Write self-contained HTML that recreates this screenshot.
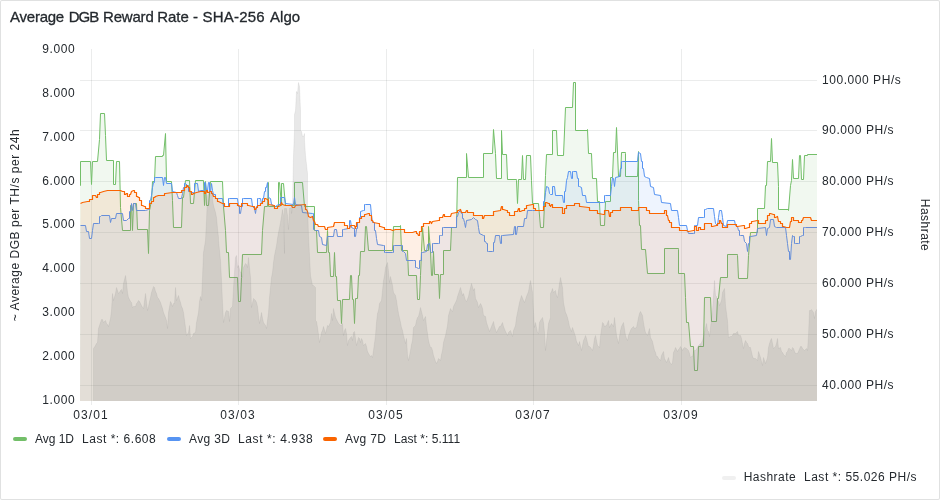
<!DOCTYPE html>
<html><head><meta charset="utf-8"><title>Average DGB Reward Rate - SHA-256 Algo</title>
<style>
html,body{margin:0;padding:0;background:#fff;}
body{width:940px;height:500px;position:relative;overflow:hidden;font-family:"Liberation Sans",sans-serif;color:#24292e;}
.panel{position:absolute;left:0;top:0;width:938px;height:498px;border:1px solid rgba(36,41,46,0.14);border-radius:2px;background:#fff;}
.title{position:absolute;left:9.2px;top:8px;font-size:15px;line-height:18px;font-weight:400;letter-spacing:0.01px;white-space:nowrap;-webkit-text-stroke:0.3px #24292e;}
.plot{position:absolute;left:0;top:0;}
.yl{position:absolute;left:20.3px;width:55px;text-align:right;font-size:12px;line-height:16px;letter-spacing:0.6px;white-space:nowrap;}
.yr{position:absolute;left:822px;font-size:12px;line-height:16px;letter-spacing:0.55px;white-space:nowrap;}
.xl{position:absolute;top:407px;width:60px;text-align:center;font-size:12px;line-height:16px;letter-spacing:1.1px;white-space:nowrap;}
.ytitle{position:absolute;left:15px;top:225px;font-size:12px;line-height:16px;white-space:nowrap;letter-spacing:0.52px;transform:translate(-50%,-50%) rotate(-90deg);}
.rtitle{position:absolute;left:925px;top:225.3px;font-size:12px;line-height:16px;white-space:nowrap;letter-spacing:0.47px;transform:translate(-50%,-50%) rotate(90deg);}
.lg{position:absolute;font-size:12px;line-height:16px;white-space:nowrap;letter-spacing:0.3px;}
.sw{position:absolute;width:14px;height:4px;border-radius:2px;}
#wrap{position:absolute;left:0;top:0;width:940px;height:500px;will-change:transform;}
</style></head><body><div id="wrap">
<div class="panel"></div>
<div class="title" style="left:10.0px;letter-spacing:-0.233px">Average</div><div class="title" style="left:68.75px;letter-spacing:-1.05px">DGB</div><div class="title" style="left:103.0px;letter-spacing:-0.19px">Reward</div><div class="title" style="left:157.25px;letter-spacing:-0.033px">Rate</div><div class="title" style="left:193.0px;letter-spacing:0.0px">-</div><div class="title" style="left:202.5px;letter-spacing:0.208px">SHA-256</div><div class="title" style="left:270.0px;letter-spacing:0.05px">Algo</div>
<svg class="plot" width="940" height="500" viewBox="0 0 940 500"><defs><clipPath id="c"><rect x="80" y="49" width="737" height="352"/></clipPath></defs><line x1="91.5" y1="49" x2="91.5" y2="405" stroke="rgba(36,41,46,0.09)" stroke-width="1"/><line x1="238.5" y1="49" x2="238.5" y2="405" stroke="rgba(36,41,46,0.09)" stroke-width="1"/><line x1="386.5" y1="49" x2="386.5" y2="405" stroke="rgba(36,41,46,0.09)" stroke-width="1"/><line x1="533.5" y1="49" x2="533.5" y2="405" stroke="rgba(36,41,46,0.09)" stroke-width="1"/><line x1="681.5" y1="49" x2="681.5" y2="405" stroke="rgba(36,41,46,0.09)" stroke-width="1"/><line x1="80" y1="385.5" x2="817" y2="385.5" stroke="rgba(36,41,46,0.09)" stroke-width="1"/><line x1="80" y1="334.5" x2="817" y2="334.5" stroke="rgba(36,41,46,0.09)" stroke-width="1"/><line x1="80" y1="283.5" x2="817" y2="283.5" stroke="rgba(36,41,46,0.09)" stroke-width="1"/><line x1="80" y1="232.5" x2="817" y2="232.5" stroke="rgba(36,41,46,0.09)" stroke-width="1"/><line x1="80" y1="181.5" x2="817" y2="181.5" stroke="rgba(36,41,46,0.09)" stroke-width="1"/><line x1="80" y1="130.5" x2="817" y2="130.5" stroke="rgba(36,41,46,0.09)" stroke-width="1"/><line x1="80" y1="80.5" x2="817" y2="80.5" stroke="rgba(36,41,46,0.09)" stroke-width="1"/><g clip-path="url(#c)"><path d="M79.50,185.50 L80.50,185.50 L80.50,161.50 L90.50,161.50 L91.50,184.50 L92.50,161.50 L97.50,161.50 L99.50,139.50 L100.50,113.50 L104.50,113.50 L105.50,135.50 L106.50,160.50 L113.50,160.50 L113.50,184.50 L115.50,184.50 L116.50,161.50 L119.50,161.50 L120.50,207.50 L122.50,230.50 L130.50,230.50 L130.50,205.50 L131.50,205.50 L132.50,230.50 L133.50,203.50 L136.50,203.50 L137.50,229.50 L147.50,229.50 L148.50,253.50 L149.50,210.50 L151.50,200.50 L152.50,181.50 L154.50,181.50 L155.50,156.50 L162.50,156.50 L162.50,155.50 L163.50,155.50 L165.50,133.50 L166.50,181.50 L171.50,181.50 L172.50,200.50 L173.50,227.50 L181.50,227.50 L182.50,197.50 L183.50,197.50 L185.50,180.50 L189.50,180.50 L190.50,203.50 L193.50,203.50 L195.50,180.50 L203.50,180.50 L204.50,205.50 L205.50,181.50 L206.50,205.50 L208.50,205.50 L210.50,181.50 L222.50,181.50 L223.50,206.50 L225.50,230.50 L226.50,252.50 L228.50,252.50 L229.50,277.50 L237.50,277.50 L238.50,301.50 L240.50,301.50 L241.50,277.50 L242.50,254.50 L261.50,254.50 L262.50,230.50 L264.50,206.50 L267.50,206.50 L268.50,182.50 L268.50,206.50 L278.50,206.50 L278.50,182.50 L279.50,182.50 L281.50,205.50 L281.50,183.50 L283.50,183.50 L285.50,205.50 L294.50,205.50 L294.50,182.50 L302.50,182.50 L304.50,206.50 L314.50,206.50 L314.50,230.50 L316.50,230.50 L317.50,252.50 L326.50,252.50 L327.50,230.50 L328.50,252.50 L329.50,252.50 L330.50,276.50 L333.50,276.50 L334.50,252.50 L335.50,276.50 L336.50,276.50 L337.50,300.50 L340.50,300.50 L341.50,323.50 L342.50,299.50 L349.50,299.50 L350.50,275.50 L351.50,275.50 L352.50,299.50 L353.50,299.50 L354.50,323.50 L355.50,298.50 L357.50,298.50 L358.50,275.50 L359.50,275.50 L360.50,251.50 L364.50,251.50 L365.50,226.50 L366.50,226.50 L368.50,250.50 L392.50,250.50 L393.50,226.50 L400.50,226.50 L400.50,225.50 L401.50,250.50 L407.50,250.50 L408.50,275.50 L416.50,275.50 L417.50,299.50 L419.50,299.50 L420.50,275.50 L421.50,251.50 L422.50,227.50 L424.50,250.50 L428.50,250.50 L428.50,226.50 L430.50,250.50 L431.50,275.50 L432.50,275.50 L433.50,251.50 L434.50,274.50 L438.50,274.50 L439.50,298.50 L440.50,274.50 L443.50,274.50 L443.50,250.50 L450.50,250.50 L451.50,227.50 L456.50,227.50 L457.50,177.50 L466.50,177.50 L466.50,153.50 L468.50,177.50 L483.50,177.50 L483.50,153.50 L492.50,153.50 L493.50,129.50 L495.50,153.50 L496.50,178.50 L501.50,178.50 L501.50,130.50 L502.50,154.50 L506.50,154.50 L507.50,179.50 L516.50,179.50 L516.50,180.50 L517.50,203.50 L518.50,179.50 L521.50,179.50 L522.50,155.50 L523.50,179.50 L525.50,179.50 L526.50,155.50 L530.50,155.50 L531.50,180.50 L532.50,203.50 L538.50,203.50 L540.50,227.50 L543.50,227.50 L544.50,202.50 L545.50,175.50 L546.50,154.50 L552.50,154.50 L552.50,130.50 L556.50,130.50 L557.50,155.50 L563.50,155.50 L565.50,107.50 L572.50,107.50 L573.50,82.50 L575.50,82.50 L575.50,130.50 L587.50,130.50 L587.50,129.50 L588.50,153.50 L591.50,153.50 L592.50,178.50 L596.50,178.50 L597.50,201.50 L599.50,201.50 L599.50,202.50 L600.50,225.50 L604.50,225.50 L605.50,201.50 L610.50,201.50 L610.50,177.50 L612.50,177.50 L613.50,152.50 L615.50,152.50 L616.50,127.50 L618.50,176.50 L620.50,176.50 L621.50,152.50 L625.50,152.50 L625.50,153.50 L625.50,176.50 L637.50,176.50 L638.50,151.50 L638.50,200.50 L639.50,225.50 L640.50,225.50 L641.50,249.50 L645.50,249.50 L647.50,273.50 L664.50,273.50 L664.50,248.50 L678.50,248.50 L678.50,249.50 L678.50,273.50 L684.50,273.50 L685.50,297.50 L686.50,322.50 L688.50,322.50 L690.50,346.50 L693.50,346.50 L694.50,370.50 L697.50,370.50 L698.50,346.50 L703.50,346.50 L704.50,297.50 L710.50,297.50 L711.50,321.50 L716.50,321.50 L717.50,298.50 L718.50,298.50 L720.50,277.50 L727.50,277.50 L727.50,254.50 L737.50,254.50 L737.50,255.50 L738.50,278.50 L747.50,278.50 L748.50,255.50 L750.50,232.50 L757.50,232.50 L757.50,208.50 L764.50,208.50 L765.50,185.50 L766.50,185.50 L767.50,161.50 L770.50,161.50 L771.50,138.50 L772.50,162.50 L777.50,162.50 L778.50,186.50 L778.50,209.50 L788.50,209.50 L788.50,210.50 L790.50,185.50 L791.50,180.50 L792.50,159.50 L793.50,178.50 L798.50,178.50 L799.50,155.50 L800.50,155.50 L801.50,179.50 L803.50,179.50 L804.50,155.50 L807.50,155.50 L807.50,154.50 L817.50,154.50 L817.00,402 L80.00,402 Z" fill="#73BF69" fill-opacity="0.1"/><path d="M79.50,185.50 L80.50,185.50 L80.50,161.50 L90.50,161.50 L91.50,184.50 L92.50,161.50 L97.50,161.50 L99.50,139.50 L100.50,113.50 L104.50,113.50 L105.50,135.50 L106.50,160.50 L113.50,160.50 L113.50,184.50 L115.50,184.50 L116.50,161.50 L119.50,161.50 L120.50,207.50 L122.50,230.50 L130.50,230.50 L130.50,205.50 L131.50,205.50 L132.50,230.50 L133.50,203.50 L136.50,203.50 L137.50,229.50 L147.50,229.50 L148.50,253.50 L149.50,210.50 L151.50,200.50 L152.50,181.50 L154.50,181.50 L155.50,156.50 L162.50,156.50 L162.50,155.50 L163.50,155.50 L165.50,133.50 L166.50,181.50 L171.50,181.50 L172.50,200.50 L173.50,227.50 L181.50,227.50 L182.50,197.50 L183.50,197.50 L185.50,180.50 L189.50,180.50 L190.50,203.50 L193.50,203.50 L195.50,180.50 L203.50,180.50 L204.50,205.50 L205.50,181.50 L206.50,205.50 L208.50,205.50 L210.50,181.50 L222.50,181.50 L223.50,206.50 L225.50,230.50 L226.50,252.50 L228.50,252.50 L229.50,277.50 L237.50,277.50 L238.50,301.50 L240.50,301.50 L241.50,277.50 L242.50,254.50 L261.50,254.50 L262.50,230.50 L264.50,206.50 L267.50,206.50 L268.50,182.50 L268.50,206.50 L278.50,206.50 L278.50,182.50 L279.50,182.50 L281.50,205.50 L281.50,183.50 L283.50,183.50 L285.50,205.50 L294.50,205.50 L294.50,182.50 L302.50,182.50 L304.50,206.50 L314.50,206.50 L314.50,230.50 L316.50,230.50 L317.50,252.50 L326.50,252.50 L327.50,230.50 L328.50,252.50 L329.50,252.50 L330.50,276.50 L333.50,276.50 L334.50,252.50 L335.50,276.50 L336.50,276.50 L337.50,300.50 L340.50,300.50 L341.50,323.50 L342.50,299.50 L349.50,299.50 L350.50,275.50 L351.50,275.50 L352.50,299.50 L353.50,299.50 L354.50,323.50 L355.50,298.50 L357.50,298.50 L358.50,275.50 L359.50,275.50 L360.50,251.50 L364.50,251.50 L365.50,226.50 L366.50,226.50 L368.50,250.50 L392.50,250.50 L393.50,226.50 L400.50,226.50 L400.50,225.50 L401.50,250.50 L407.50,250.50 L408.50,275.50 L416.50,275.50 L417.50,299.50 L419.50,299.50 L420.50,275.50 L421.50,251.50 L422.50,227.50 L424.50,250.50 L428.50,250.50 L428.50,226.50 L430.50,250.50 L431.50,275.50 L432.50,275.50 L433.50,251.50 L434.50,274.50 L438.50,274.50 L439.50,298.50 L440.50,274.50 L443.50,274.50 L443.50,250.50 L450.50,250.50 L451.50,227.50 L456.50,227.50 L457.50,177.50 L466.50,177.50 L466.50,153.50 L468.50,177.50 L483.50,177.50 L483.50,153.50 L492.50,153.50 L493.50,129.50 L495.50,153.50 L496.50,178.50 L501.50,178.50 L501.50,130.50 L502.50,154.50 L506.50,154.50 L507.50,179.50 L516.50,179.50 L516.50,180.50 L517.50,203.50 L518.50,179.50 L521.50,179.50 L522.50,155.50 L523.50,179.50 L525.50,179.50 L526.50,155.50 L530.50,155.50 L531.50,180.50 L532.50,203.50 L538.50,203.50 L540.50,227.50 L543.50,227.50 L544.50,202.50 L545.50,175.50 L546.50,154.50 L552.50,154.50 L552.50,130.50 L556.50,130.50 L557.50,155.50 L563.50,155.50 L565.50,107.50 L572.50,107.50 L573.50,82.50 L575.50,82.50 L575.50,130.50 L587.50,130.50 L587.50,129.50 L588.50,153.50 L591.50,153.50 L592.50,178.50 L596.50,178.50 L597.50,201.50 L599.50,201.50 L599.50,202.50 L600.50,225.50 L604.50,225.50 L605.50,201.50 L610.50,201.50 L610.50,177.50 L612.50,177.50 L613.50,152.50 L615.50,152.50 L616.50,127.50 L618.50,176.50 L620.50,176.50 L621.50,152.50 L625.50,152.50 L625.50,153.50 L625.50,176.50 L637.50,176.50 L638.50,151.50 L638.50,200.50 L639.50,225.50 L640.50,225.50 L641.50,249.50 L645.50,249.50 L647.50,273.50 L664.50,273.50 L664.50,248.50 L678.50,248.50 L678.50,249.50 L678.50,273.50 L684.50,273.50 L685.50,297.50 L686.50,322.50 L688.50,322.50 L690.50,346.50 L693.50,346.50 L694.50,370.50 L697.50,370.50 L698.50,346.50 L703.50,346.50 L704.50,297.50 L710.50,297.50 L711.50,321.50 L716.50,321.50 L717.50,298.50 L718.50,298.50 L720.50,277.50 L727.50,277.50 L727.50,254.50 L737.50,254.50 L737.50,255.50 L738.50,278.50 L747.50,278.50 L748.50,255.50 L750.50,232.50 L757.50,232.50 L757.50,208.50 L764.50,208.50 L765.50,185.50 L766.50,185.50 L767.50,161.50 L770.50,161.50 L771.50,138.50 L772.50,162.50 L777.50,162.50 L778.50,186.50 L778.50,209.50 L788.50,209.50 L788.50,210.50 L790.50,185.50 L791.50,180.50 L792.50,159.50 L793.50,178.50 L798.50,178.50 L799.50,155.50 L800.50,155.50 L801.50,179.50 L803.50,179.50 L804.50,155.50 L807.50,155.50 L807.50,154.50 L817.50,154.50" fill="none" stroke="#73BF69" stroke-width="1" stroke-linejoin="round"/><path d="M80.50,225.50 L85.50,225.50 L86.50,231.50 L88.50,231.50 L89.50,238.50 L91.50,238.50 L92.50,230.50 L93.50,223.50 L98.50,223.50 L99.50,223.50 L99.50,216.50 L100.50,216.50 L101.50,215.50 L109.50,215.50 L110.50,222.50 L111.50,218.50 L115.50,218.50 L116.50,213.50 L122.50,213.50 L123.50,220.50 L126.50,220.50 L128.50,218.50 L129.50,218.50 L129.50,211.50 L130.50,211.50 L131.50,203.50 L132.50,210.50 L133.50,203.50 L135.50,203.50 L136.50,210.50 L145.50,210.50 L148.50,209.50 L149.50,209.50 L149.50,200.50 L150.50,200.50 L151.50,195.50 L152.50,187.50 L153.50,182.50 L154.50,182.50 L154.50,177.50 L155.50,177.50 L162.50,177.50 L163.50,185.50 L164.50,177.50 L165.50,177.50 L166.50,183.50 L171.50,183.50 L172.50,191.50 L176.50,192.50 L177.50,195.50 L178.50,198.50 L181.50,198.50 L182.50,193.50 L183.50,187.50 L184.50,187.50 L184.50,183.50 L185.50,183.50 L187.50,185.50 L188.50,185.50 L188.50,191.50 L189.50,191.50 L191.50,192.50 L193.50,192.50 L194.50,192.50 L194.50,183.50 L195.50,183.50 L197.50,183.50 L198.50,191.50 L200.50,190.50 L203.50,190.50 L204.50,190.50 L204.50,182.50 L205.50,182.50 L206.50,190.50 L207.50,190.50 L208.50,182.50 L209.50,182.50 L209.50,191.50 L210.50,191.50 L211.50,183.50 L212.50,190.50 L213.50,194.50 L215.50,194.50 L215.50,198.50 L216.50,198.50 L222.50,198.50 L223.50,206.50 L227.50,206.50 L228.50,206.50 L228.50,198.50 L229.50,198.50 L237.50,198.50 L238.50,206.50 L239.50,206.50 L239.50,213.50 L240.50,213.50 L241.50,206.50 L242.50,206.50 L242.50,198.50 L243.50,198.50 L251.50,198.50 L252.50,206.50 L254.50,208.50 L255.50,213.50 L256.50,206.50 L257.50,206.50 L257.50,198.50 L258.50,198.50 L260.50,198.50 L261.50,203.50 L262.50,203.50 L262.50,198.50 L263.50,198.50 L264.50,191.50 L265.50,191.50 L265.50,187.50 L266.50,187.50 L267.50,182.50 L268.50,197.50 L270.50,198.50 L271.50,204.50 L273.50,205.50 L275.50,206.50 L278.50,204.50 L280.50,204.50 L280.50,197.50 L281.50,197.50 L284.50,197.50 L285.50,203.50 L293.50,204.50 L294.50,197.50 L295.50,204.50 L301.50,205.50 L302.50,212.50 L312.50,213.50 L313.50,213.50 L313.50,229.50 L314.50,229.50 L315.50,230.50 L318.50,230.50 L319.50,236.50 L321.50,237.50 L322.50,244.50 L326.50,245.50 L327.50,236.50 L333.50,236.50 L334.50,229.50 L336.50,229.50 L337.50,236.50 L341.50,236.50 L342.50,236.50 L342.50,229.50 L343.50,229.50 L348.50,228.50 L349.50,228.50 L349.50,220.50 L350.50,220.50 L351.50,227.50 L353.50,228.50 L354.50,228.50 L354.50,236.50 L355.50,236.50 L356.50,228.50 L357.50,228.50 L357.50,222.50 L358.50,222.50 L359.50,222.50 L359.50,217.50 L360.50,217.50 L360.50,211.50 L363.50,210.50 L364.50,210.50 L364.50,204.50 L365.50,204.50 L370.50,204.50 L371.50,215.50 L372.50,222.50 L374.50,222.50 L374.50,230.50 L375.50,230.50 L376.50,238.50 L377.50,244.50 L383.50,245.50 L384.50,245.50 L384.50,252.50 L385.50,252.50 L392.50,252.50 L393.50,252.50 L393.50,245.50 L394.50,245.50 L401.50,245.50 L402.50,245.50 L402.50,251.50 L403.50,251.50 L405.50,253.50 L406.50,260.50 L413.50,260.50 L415.50,260.50 L415.50,267.50 L416.50,267.50 L418.50,268.50 L419.50,268.50 L419.50,260.50 L420.50,260.50 L421.50,260.50 L421.50,252.50 L422.50,252.50 L426.50,251.50 L427.50,244.50 L429.50,243.50 L430.50,251.50 L431.50,252.50 L432.50,252.50 L432.50,243.50 L433.50,243.50 L438.50,243.50 L439.50,243.50 L439.50,235.50 L440.50,235.50 L441.50,235.50 L442.50,235.50 L442.50,227.50 L443.50,227.50 L455.50,227.50 L456.50,227.50 L456.50,216.50 L457.50,216.50 L458.50,212.50 L460.50,210.50 L461.50,213.50 L462.50,213.50 L462.50,218.50 L463.50,218.50 L464.50,222.50 L465.50,227.50 L466.50,220.50 L471.50,219.50 L473.50,217.50 L475.50,219.50 L477.50,220.50 L478.50,227.50 L479.50,233.50 L483.50,235.50 L484.50,235.50 L484.50,241.50 L485.50,241.50 L486.50,243.50 L487.50,243.50 L487.50,251.50 L488.50,251.50 L492.50,251.50 L493.50,251.50 L493.50,242.50 L494.50,242.50 L495.50,235.50 L499.50,235.50 L500.50,243.50 L501.50,243.50 L501.50,235.50 L502.50,235.50 L513.50,234.50 L514.50,226.50 L515.50,226.50 L515.50,234.50 L516.50,234.50 L517.50,226.50 L523.50,226.50 L524.50,218.50 L526.50,218.50 L527.50,210.50 L532.50,210.50 L535.50,210.50 L542.50,210.50 L543.50,210.50 L543.50,201.50 L544.50,201.50 L545.50,192.50 L546.50,186.50 L548.50,187.50 L549.50,193.50 L550.50,194.50 L552.50,194.50 L552.50,186.50 L554.50,186.50 L555.50,195.50 L562.50,195.50 L563.50,202.50 L564.50,202.50 L564.50,191.50 L565.50,191.50 L566.50,180.50 L567.50,177.50 L568.50,171.50 L570.50,171.50 L571.50,178.50 L572.50,178.50 L572.50,171.50 L573.50,171.50 L576.50,171.50 L577.50,178.50 L578.50,178.50 L578.50,186.50 L579.50,186.50 L581.50,187.50 L582.50,195.50 L585.50,195.50 L586.50,202.50 L603.50,202.50 L604.50,202.50 L604.50,195.50 L605.50,195.50 L610.50,195.50 L611.50,186.50 L612.50,177.50 L613.50,178.50 L614.50,186.50 L615.50,177.50 L619.50,176.50 L620.50,168.50 L621.50,168.50 L621.50,161.50 L622.50,161.50 L637.50,161.50 L638.50,152.50 L640.50,153.50 L641.50,161.50 L642.50,161.50 L642.50,168.50 L643.50,168.50 L644.50,176.50 L646.50,177.50 L649.50,178.50 L650.50,186.50 L653.50,187.50 L654.50,194.50 L660.50,195.50 L661.50,202.50 L670.50,203.50 L671.50,210.50 L677.50,210.50 L678.50,217.50 L679.50,225.50 L686.50,225.50 L687.50,230.50 L688.50,233.50 L693.50,233.50 L694.50,233.50 L694.50,225.50 L695.50,225.50 L697.50,225.50 L698.50,217.50 L703.50,217.50 L704.50,217.50 L704.50,209.50 L705.50,209.50 L707.50,208.50 L713.50,208.50 L714.50,216.50 L715.50,223.50 L717.50,225.50 L718.50,217.50 L719.50,210.50 L721.50,210.50 L722.50,217.50 L723.50,225.50 L726.50,226.50 L727.50,220.50 L734.50,220.50 L735.50,225.50 L737.50,226.50 L738.50,230.50 L739.50,230.50 L739.50,235.50 L740.50,235.50 L743.50,235.50 L744.50,241.50 L746.50,243.50 L747.50,251.50 L748.50,243.50 L749.50,243.50 L749.50,236.50 L750.50,236.50 L756.50,235.50 L757.50,228.50 L765.50,227.50 L766.50,235.50 L767.50,228.50 L769.50,227.50 L770.50,219.50 L773.50,219.50 L774.50,226.50 L776.50,227.50 L785.50,227.50 L786.50,235.50 L787.50,243.50 L788.50,251.50 L789.50,251.50 L789.50,259.50 L790.50,259.50 L791.50,243.50 L792.50,235.50 L793.50,236.50 L794.50,236.50 L794.50,243.50 L795.50,243.50 L798.50,243.50 L799.50,243.50 L799.50,236.50 L800.50,236.50 L802.50,235.50 L803.50,235.50 L803.50,227.50 L804.50,227.50 L805.50,227.50 L817.50,227.50 L817.00,402 L80.00,402 Z" fill="#5794F2" fill-opacity="0.1"/><path d="M80.50,225.50 L85.50,225.50 L86.50,231.50 L88.50,231.50 L89.50,238.50 L91.50,238.50 L92.50,230.50 L93.50,223.50 L98.50,223.50 L99.50,223.50 L99.50,216.50 L100.50,216.50 L101.50,215.50 L109.50,215.50 L110.50,222.50 L111.50,218.50 L115.50,218.50 L116.50,213.50 L122.50,213.50 L123.50,220.50 L126.50,220.50 L128.50,218.50 L129.50,218.50 L129.50,211.50 L130.50,211.50 L131.50,203.50 L132.50,210.50 L133.50,203.50 L135.50,203.50 L136.50,210.50 L145.50,210.50 L148.50,209.50 L149.50,209.50 L149.50,200.50 L150.50,200.50 L151.50,195.50 L152.50,187.50 L153.50,182.50 L154.50,182.50 L154.50,177.50 L155.50,177.50 L162.50,177.50 L163.50,185.50 L164.50,177.50 L165.50,177.50 L166.50,183.50 L171.50,183.50 L172.50,191.50 L176.50,192.50 L177.50,195.50 L178.50,198.50 L181.50,198.50 L182.50,193.50 L183.50,187.50 L184.50,187.50 L184.50,183.50 L185.50,183.50 L187.50,185.50 L188.50,185.50 L188.50,191.50 L189.50,191.50 L191.50,192.50 L193.50,192.50 L194.50,192.50 L194.50,183.50 L195.50,183.50 L197.50,183.50 L198.50,191.50 L200.50,190.50 L203.50,190.50 L204.50,190.50 L204.50,182.50 L205.50,182.50 L206.50,190.50 L207.50,190.50 L208.50,182.50 L209.50,182.50 L209.50,191.50 L210.50,191.50 L211.50,183.50 L212.50,190.50 L213.50,194.50 L215.50,194.50 L215.50,198.50 L216.50,198.50 L222.50,198.50 L223.50,206.50 L227.50,206.50 L228.50,206.50 L228.50,198.50 L229.50,198.50 L237.50,198.50 L238.50,206.50 L239.50,206.50 L239.50,213.50 L240.50,213.50 L241.50,206.50 L242.50,206.50 L242.50,198.50 L243.50,198.50 L251.50,198.50 L252.50,206.50 L254.50,208.50 L255.50,213.50 L256.50,206.50 L257.50,206.50 L257.50,198.50 L258.50,198.50 L260.50,198.50 L261.50,203.50 L262.50,203.50 L262.50,198.50 L263.50,198.50 L264.50,191.50 L265.50,191.50 L265.50,187.50 L266.50,187.50 L267.50,182.50 L268.50,197.50 L270.50,198.50 L271.50,204.50 L273.50,205.50 L275.50,206.50 L278.50,204.50 L280.50,204.50 L280.50,197.50 L281.50,197.50 L284.50,197.50 L285.50,203.50 L293.50,204.50 L294.50,197.50 L295.50,204.50 L301.50,205.50 L302.50,212.50 L312.50,213.50 L313.50,213.50 L313.50,229.50 L314.50,229.50 L315.50,230.50 L318.50,230.50 L319.50,236.50 L321.50,237.50 L322.50,244.50 L326.50,245.50 L327.50,236.50 L333.50,236.50 L334.50,229.50 L336.50,229.50 L337.50,236.50 L341.50,236.50 L342.50,236.50 L342.50,229.50 L343.50,229.50 L348.50,228.50 L349.50,228.50 L349.50,220.50 L350.50,220.50 L351.50,227.50 L353.50,228.50 L354.50,228.50 L354.50,236.50 L355.50,236.50 L356.50,228.50 L357.50,228.50 L357.50,222.50 L358.50,222.50 L359.50,222.50 L359.50,217.50 L360.50,217.50 L360.50,211.50 L363.50,210.50 L364.50,210.50 L364.50,204.50 L365.50,204.50 L370.50,204.50 L371.50,215.50 L372.50,222.50 L374.50,222.50 L374.50,230.50 L375.50,230.50 L376.50,238.50 L377.50,244.50 L383.50,245.50 L384.50,245.50 L384.50,252.50 L385.50,252.50 L392.50,252.50 L393.50,252.50 L393.50,245.50 L394.50,245.50 L401.50,245.50 L402.50,245.50 L402.50,251.50 L403.50,251.50 L405.50,253.50 L406.50,260.50 L413.50,260.50 L415.50,260.50 L415.50,267.50 L416.50,267.50 L418.50,268.50 L419.50,268.50 L419.50,260.50 L420.50,260.50 L421.50,260.50 L421.50,252.50 L422.50,252.50 L426.50,251.50 L427.50,244.50 L429.50,243.50 L430.50,251.50 L431.50,252.50 L432.50,252.50 L432.50,243.50 L433.50,243.50 L438.50,243.50 L439.50,243.50 L439.50,235.50 L440.50,235.50 L441.50,235.50 L442.50,235.50 L442.50,227.50 L443.50,227.50 L455.50,227.50 L456.50,227.50 L456.50,216.50 L457.50,216.50 L458.50,212.50 L460.50,210.50 L461.50,213.50 L462.50,213.50 L462.50,218.50 L463.50,218.50 L464.50,222.50 L465.50,227.50 L466.50,220.50 L471.50,219.50 L473.50,217.50 L475.50,219.50 L477.50,220.50 L478.50,227.50 L479.50,233.50 L483.50,235.50 L484.50,235.50 L484.50,241.50 L485.50,241.50 L486.50,243.50 L487.50,243.50 L487.50,251.50 L488.50,251.50 L492.50,251.50 L493.50,251.50 L493.50,242.50 L494.50,242.50 L495.50,235.50 L499.50,235.50 L500.50,243.50 L501.50,243.50 L501.50,235.50 L502.50,235.50 L513.50,234.50 L514.50,226.50 L515.50,226.50 L515.50,234.50 L516.50,234.50 L517.50,226.50 L523.50,226.50 L524.50,218.50 L526.50,218.50 L527.50,210.50 L532.50,210.50 L535.50,210.50 L542.50,210.50 L543.50,210.50 L543.50,201.50 L544.50,201.50 L545.50,192.50 L546.50,186.50 L548.50,187.50 L549.50,193.50 L550.50,194.50 L552.50,194.50 L552.50,186.50 L554.50,186.50 L555.50,195.50 L562.50,195.50 L563.50,202.50 L564.50,202.50 L564.50,191.50 L565.50,191.50 L566.50,180.50 L567.50,177.50 L568.50,171.50 L570.50,171.50 L571.50,178.50 L572.50,178.50 L572.50,171.50 L573.50,171.50 L576.50,171.50 L577.50,178.50 L578.50,178.50 L578.50,186.50 L579.50,186.50 L581.50,187.50 L582.50,195.50 L585.50,195.50 L586.50,202.50 L603.50,202.50 L604.50,202.50 L604.50,195.50 L605.50,195.50 L610.50,195.50 L611.50,186.50 L612.50,177.50 L613.50,178.50 L614.50,186.50 L615.50,177.50 L619.50,176.50 L620.50,168.50 L621.50,168.50 L621.50,161.50 L622.50,161.50 L637.50,161.50 L638.50,152.50 L640.50,153.50 L641.50,161.50 L642.50,161.50 L642.50,168.50 L643.50,168.50 L644.50,176.50 L646.50,177.50 L649.50,178.50 L650.50,186.50 L653.50,187.50 L654.50,194.50 L660.50,195.50 L661.50,202.50 L670.50,203.50 L671.50,210.50 L677.50,210.50 L678.50,217.50 L679.50,225.50 L686.50,225.50 L687.50,230.50 L688.50,233.50 L693.50,233.50 L694.50,233.50 L694.50,225.50 L695.50,225.50 L697.50,225.50 L698.50,217.50 L703.50,217.50 L704.50,217.50 L704.50,209.50 L705.50,209.50 L707.50,208.50 L713.50,208.50 L714.50,216.50 L715.50,223.50 L717.50,225.50 L718.50,217.50 L719.50,210.50 L721.50,210.50 L722.50,217.50 L723.50,225.50 L726.50,226.50 L727.50,220.50 L734.50,220.50 L735.50,225.50 L737.50,226.50 L738.50,230.50 L739.50,230.50 L739.50,235.50 L740.50,235.50 L743.50,235.50 L744.50,241.50 L746.50,243.50 L747.50,251.50 L748.50,243.50 L749.50,243.50 L749.50,236.50 L750.50,236.50 L756.50,235.50 L757.50,228.50 L765.50,227.50 L766.50,235.50 L767.50,228.50 L769.50,227.50 L770.50,219.50 L773.50,219.50 L774.50,226.50 L776.50,227.50 L785.50,227.50 L786.50,235.50 L787.50,243.50 L788.50,251.50 L789.50,251.50 L789.50,259.50 L790.50,259.50 L791.50,243.50 L792.50,235.50 L793.50,236.50 L794.50,236.50 L794.50,243.50 L795.50,243.50 L798.50,243.50 L799.50,243.50 L799.50,236.50 L800.50,236.50 L802.50,235.50 L803.50,235.50 L803.50,227.50 L804.50,227.50 L805.50,227.50 L817.50,227.50" fill="none" stroke="#5794F2" stroke-width="1" stroke-linejoin="round"/><path d="M80.50,203.50 L82.50,202.50 L87.50,201.50 L89.50,201.50 L89.50,199.50 L91.50,199.50 L92.50,199.50 L92.50,195.50 L93.50,195.50 L95.50,195.50 L96.50,197.50 L97.50,197.50 L97.50,194.50 L98.50,194.50 L99.50,194.50 L99.50,192.50 L100.50,192.50 L103.50,191.50 L107.50,190.50 L120.50,190.50 L122.50,191.50 L124.50,191.50 L124.50,194.50 L125.50,194.50 L126.50,193.50 L127.50,193.50 L127.50,196.50 L128.50,196.50 L129.50,196.50 L129.50,194.50 L130.50,194.50 L131.50,191.50 L133.50,190.50 L134.50,190.50 L134.50,192.50 L135.50,192.50 L136.50,192.50 L136.50,196.50 L137.50,196.50 L138.50,197.50 L139.50,197.50 L139.50,200.50 L140.50,200.50 L141.50,200.50 L141.50,205.50 L142.50,205.50 L144.50,206.50 L145.50,206.50 L145.50,208.50 L146.50,208.50 L148.50,208.50 L149.50,208.50 L149.50,203.50 L150.50,203.50 L151.50,203.50 L151.50,201.50 L152.50,201.50 L153.50,201.50 L153.50,197.50 L154.50,197.50 L155.50,196.50 L158.50,195.50 L162.50,195.50 L164.50,195.50 L164.50,193.50 L165.50,193.50 L172.50,192.50 L180.50,192.50 L181.50,192.50 L181.50,190.50 L182.50,190.50 L184.50,190.50 L184.50,187.50 L185.50,187.50 L186.50,187.50 L186.50,185.50 L187.50,185.50 L188.50,187.50 L189.50,187.50 L189.50,191.50 L190.50,191.50 L191.50,191.50 L191.50,194.50 L192.50,194.50 L193.50,193.50 L196.50,192.50 L200.50,191.50 L203.50,191.50 L204.50,191.50 L204.50,193.50 L205.50,193.50 L206.50,190.50 L207.50,190.50 L207.50,192.50 L208.50,192.50 L210.50,191.50 L211.50,191.50 L211.50,193.50 L212.50,193.50 L213.50,196.50 L215.50,196.50 L215.50,198.50 L216.50,198.50 L217.50,198.50 L217.50,201.50 L218.50,201.50 L220.50,202.50 L222.50,203.50 L224.50,203.50 L224.50,206.50 L225.50,206.50 L228.50,206.50 L229.50,206.50 L229.50,203.50 L230.50,203.50 L236.50,203.50 L237.50,203.50 L237.50,205.50 L238.50,205.50 L240.50,206.50 L241.50,206.50 L241.50,203.50 L242.50,203.50 L246.50,203.50 L247.50,203.50 L247.50,205.50 L248.50,205.50 L252.50,206.50 L254.50,206.50 L254.50,209.50 L255.50,209.50 L256.50,207.50 L257.50,207.50 L257.50,205.50 L258.50,205.50 L260.50,205.50 L260.50,203.50 L261.50,203.50 L262.50,203.50 L262.50,201.50 L263.50,201.50 L264.50,201.50 L264.50,198.50 L265.50,198.50 L267.50,199.50 L268.50,200.50 L268.50,204.50 L274.50,205.50 L274.50,208.50 L276.50,208.50 L277.50,208.50 L277.50,206.50 L278.50,206.50 L280.50,205.50 L281.50,202.50 L282.50,204.50 L285.50,205.50 L291.50,205.50 L292.50,207.50 L294.50,207.50 L295.50,205.50 L304.50,204.50 L305.50,204.50 L305.50,209.50 L306.50,209.50 L307.50,211.50 L308.50,216.50 L310.50,217.50 L312.50,216.50 L313.50,220.50 L314.50,221.50 L315.50,224.50 L317.50,224.50 L318.50,226.50 L324.50,226.50 L325.50,229.50 L327.50,229.50 L327.50,227.50 L333.50,226.50 L334.50,222.50 L343.50,222.50 L344.50,222.50 L344.50,225.50 L345.50,225.50 L346.50,225.50 L347.50,225.50 L347.50,228.50 L348.50,228.50 L349.50,228.50 L350.50,225.50 L354.50,225.50 L355.50,228.50 L355.50,226.50 L356.50,226.50 L356.50,222.50 L357.50,222.50 L359.50,222.50 L359.50,218.50 L360.50,218.50 L361.50,218.50 L361.50,216.50 L362.50,216.50 L364.50,216.50 L364.50,214.50 L365.50,214.50 L368.50,213.50 L369.50,213.50 L369.50,215.50 L370.50,215.50 L371.50,215.50 L371.50,220.50 L372.50,220.50 L373.50,222.50 L378.50,223.50 L379.50,223.50 L379.50,226.50 L380.50,226.50 L383.50,227.50 L384.50,227.50 L384.50,229.50 L385.50,229.50 L390.50,229.50 L392.50,230.50 L395.50,229.50 L402.50,229.50 L404.50,229.50 L404.50,232.50 L405.50,232.50 L412.50,232.50 L415.50,231.50 L416.50,231.50 L416.50,233.50 L417.50,233.50 L418.50,235.50 L419.50,235.50 L419.50,231.50 L420.50,231.50 L421.50,231.50 L421.50,226.50 L422.50,226.50 L423.50,226.50 L423.50,223.50 L424.50,223.50 L428.50,223.50 L429.50,223.50 L429.50,221.50 L430.50,221.50 L431.50,223.50 L432.50,221.50 L438.50,220.50 L439.50,220.50 L439.50,217.50 L440.50,217.50 L442.50,217.50 L443.50,214.50 L444.50,214.50 L444.50,216.50 L445.50,216.50 L450.50,216.50 L451.50,213.50 L456.50,212.50 L457.50,212.50 L457.50,210.50 L458.50,210.50 L460.50,209.50 L461.50,212.50 L465.50,212.50 L466.50,210.50 L467.50,210.50 L467.50,212.50 L468.50,212.50 L472.50,212.50 L473.50,212.50 L473.50,215.50 L474.50,215.50 L481.50,215.50 L482.50,215.50 L482.50,218.50 L483.50,218.50 L484.50,215.50 L492.50,215.50 L493.50,215.50 L493.50,211.50 L494.50,211.50 L500.50,210.50 L501.50,206.50 L502.50,206.50 L502.50,209.50 L503.50,209.50 L506.50,210.50 L507.50,210.50 L507.50,212.50 L508.50,212.50 L509.50,212.50 L509.50,215.50 L510.50,215.50 L513.50,215.50 L514.50,215.50 L514.50,211.50 L515.50,211.50 L517.50,211.50 L518.50,208.50 L519.50,208.50 L519.50,211.50 L520.50,211.50 L522.50,210.50 L524.50,210.50 L524.50,208.50 L525.50,208.50 L526.50,208.50 L526.50,205.50 L527.50,205.50 L532.50,204.50 L533.50,204.50 L533.50,208.50 L534.50,208.50 L535.50,208.50 L535.50,210.50 L536.50,210.50 L542.50,210.50 L543.50,210.50 L543.50,206.50 L544.50,206.50 L545.50,206.50 L545.50,202.50 L546.50,202.50 L548.50,203.50 L549.50,203.50 L549.50,205.50 L550.50,205.50 L550.50,206.50 L551.50,204.50 L552.50,204.50 L552.50,207.50 L553.50,207.50 L561.50,207.50 L562.50,207.50 L562.50,213.50 L563.50,213.50 L564.50,213.50 L564.50,208.50 L565.50,208.50 L566.50,208.50 L566.50,205.50 L567.50,205.50 L572.50,205.50 L574.50,205.50 L574.50,203.50 L575.50,203.50 L578.50,203.50 L579.50,203.50 L579.50,206.50 L580.50,206.50 L588.50,207.50 L589.50,207.50 L589.50,210.50 L590.50,210.50 L596.50,210.50 L597.50,210.50 L597.50,213.50 L598.50,213.50 L603.50,214.50 L604.50,214.50 L604.50,210.50 L605.50,210.50 L608.50,210.50 L609.50,216.50 L610.50,216.50 L610.50,212.50 L611.50,212.50 L612.50,212.50 L612.50,210.50 L613.50,210.50 L618.50,210.50 L620.50,210.50 L620.50,207.50 L621.50,207.50 L630.50,207.50 L631.50,207.50 L631.50,210.50 L632.50,210.50 L637.50,210.50 L638.50,210.50 L638.50,207.50 L639.50,207.50 L645.50,207.50 L646.50,207.50 L646.50,210.50 L647.50,210.50 L649.50,210.50 L649.50,213.50 L650.50,213.50 L663.50,213.50 L664.50,213.50 L664.50,210.50 L665.50,210.50 L666.50,210.50 L666.50,215.50 L667.50,215.50 L668.50,220.50 L669.50,220.50 L669.50,222.50 L670.50,222.50 L671.50,222.50 L671.50,227.50 L672.50,227.50 L677.50,227.50 L679.50,227.50 L679.50,230.50 L680.50,230.50 L686.50,230.50 L688.50,231.50 L693.50,230.50 L694.50,230.50 L694.50,226.50 L695.50,226.50 L696.50,226.50 L696.50,230.50 L697.50,230.50 L698.50,230.50 L698.50,227.50 L699.50,227.50 L700.50,227.50 L700.50,229.50 L701.50,229.50 L703.50,229.50 L704.50,229.50 L704.50,223.50 L705.50,223.50 L710.50,223.50 L711.50,223.50 L711.50,226.50 L712.50,226.50 L716.50,225.50 L717.50,225.50 L717.50,223.50 L718.50,223.50 L719.50,223.50 L719.50,220.50 L720.50,220.50 L721.50,223.50 L722.50,223.50 L722.50,227.50 L723.50,227.50 L726.50,227.50 L727.50,227.50 L727.50,224.50 L728.50,224.50 L735.50,224.50 L736.50,224.50 L736.50,226.50 L737.50,226.50 L743.50,225.50 L744.50,225.50 L744.50,228.50 L745.50,228.50 L748.50,227.50 L749.50,227.50 L749.50,223.50 L750.50,223.50 L751.50,223.50 L751.50,221.50 L752.50,221.50 L757.50,220.50 L758.50,220.50 L758.50,223.50 L759.50,223.50 L763.50,223.50 L765.50,223.50 L765.50,220.50 L766.50,220.50 L767.50,220.50 L767.50,215.50 L768.50,215.50 L769.50,215.50 L769.50,213.50 L770.50,213.50 L773.50,214.50 L774.50,214.50 L774.50,217.50 L775.50,217.50 L777.50,216.50 L778.50,221.50 L780.50,221.50 L780.50,223.50 L781.50,223.50 L782.50,223.50 L782.50,226.50 L783.50,226.50 L786.50,227.50 L789.50,227.50 L790.50,221.50 L791.50,221.50 L791.50,217.50 L792.50,217.50 L793.50,217.50 L793.50,220.50 L794.50,220.50 L797.50,220.50 L798.50,220.50 L798.50,222.50 L799.50,222.50 L801.50,222.50 L801.50,220.50 L802.50,220.50 L803.50,217.50 L810.50,217.50 L811.50,220.50 L817.50,220.50 L817.00,402 L80.00,402 Z" fill="#FA6400" fill-opacity="0.1"/><path d="M80.50,203.50 L82.50,202.50 L87.50,201.50 L89.50,201.50 L89.50,199.50 L91.50,199.50 L92.50,199.50 L92.50,195.50 L93.50,195.50 L95.50,195.50 L96.50,197.50 L97.50,197.50 L97.50,194.50 L98.50,194.50 L99.50,194.50 L99.50,192.50 L100.50,192.50 L103.50,191.50 L107.50,190.50 L120.50,190.50 L122.50,191.50 L124.50,191.50 L124.50,194.50 L125.50,194.50 L126.50,193.50 L127.50,193.50 L127.50,196.50 L128.50,196.50 L129.50,196.50 L129.50,194.50 L130.50,194.50 L131.50,191.50 L133.50,190.50 L134.50,190.50 L134.50,192.50 L135.50,192.50 L136.50,192.50 L136.50,196.50 L137.50,196.50 L138.50,197.50 L139.50,197.50 L139.50,200.50 L140.50,200.50 L141.50,200.50 L141.50,205.50 L142.50,205.50 L144.50,206.50 L145.50,206.50 L145.50,208.50 L146.50,208.50 L148.50,208.50 L149.50,208.50 L149.50,203.50 L150.50,203.50 L151.50,203.50 L151.50,201.50 L152.50,201.50 L153.50,201.50 L153.50,197.50 L154.50,197.50 L155.50,196.50 L158.50,195.50 L162.50,195.50 L164.50,195.50 L164.50,193.50 L165.50,193.50 L172.50,192.50 L180.50,192.50 L181.50,192.50 L181.50,190.50 L182.50,190.50 L184.50,190.50 L184.50,187.50 L185.50,187.50 L186.50,187.50 L186.50,185.50 L187.50,185.50 L188.50,187.50 L189.50,187.50 L189.50,191.50 L190.50,191.50 L191.50,191.50 L191.50,194.50 L192.50,194.50 L193.50,193.50 L196.50,192.50 L200.50,191.50 L203.50,191.50 L204.50,191.50 L204.50,193.50 L205.50,193.50 L206.50,190.50 L207.50,190.50 L207.50,192.50 L208.50,192.50 L210.50,191.50 L211.50,191.50 L211.50,193.50 L212.50,193.50 L213.50,196.50 L215.50,196.50 L215.50,198.50 L216.50,198.50 L217.50,198.50 L217.50,201.50 L218.50,201.50 L220.50,202.50 L222.50,203.50 L224.50,203.50 L224.50,206.50 L225.50,206.50 L228.50,206.50 L229.50,206.50 L229.50,203.50 L230.50,203.50 L236.50,203.50 L237.50,203.50 L237.50,205.50 L238.50,205.50 L240.50,206.50 L241.50,206.50 L241.50,203.50 L242.50,203.50 L246.50,203.50 L247.50,203.50 L247.50,205.50 L248.50,205.50 L252.50,206.50 L254.50,206.50 L254.50,209.50 L255.50,209.50 L256.50,207.50 L257.50,207.50 L257.50,205.50 L258.50,205.50 L260.50,205.50 L260.50,203.50 L261.50,203.50 L262.50,203.50 L262.50,201.50 L263.50,201.50 L264.50,201.50 L264.50,198.50 L265.50,198.50 L267.50,199.50 L268.50,200.50 L268.50,204.50 L274.50,205.50 L274.50,208.50 L276.50,208.50 L277.50,208.50 L277.50,206.50 L278.50,206.50 L280.50,205.50 L281.50,202.50 L282.50,204.50 L285.50,205.50 L291.50,205.50 L292.50,207.50 L294.50,207.50 L295.50,205.50 L304.50,204.50 L305.50,204.50 L305.50,209.50 L306.50,209.50 L307.50,211.50 L308.50,216.50 L310.50,217.50 L312.50,216.50 L313.50,220.50 L314.50,221.50 L315.50,224.50 L317.50,224.50 L318.50,226.50 L324.50,226.50 L325.50,229.50 L327.50,229.50 L327.50,227.50 L333.50,226.50 L334.50,222.50 L343.50,222.50 L344.50,222.50 L344.50,225.50 L345.50,225.50 L346.50,225.50 L347.50,225.50 L347.50,228.50 L348.50,228.50 L349.50,228.50 L350.50,225.50 L354.50,225.50 L355.50,228.50 L355.50,226.50 L356.50,226.50 L356.50,222.50 L357.50,222.50 L359.50,222.50 L359.50,218.50 L360.50,218.50 L361.50,218.50 L361.50,216.50 L362.50,216.50 L364.50,216.50 L364.50,214.50 L365.50,214.50 L368.50,213.50 L369.50,213.50 L369.50,215.50 L370.50,215.50 L371.50,215.50 L371.50,220.50 L372.50,220.50 L373.50,222.50 L378.50,223.50 L379.50,223.50 L379.50,226.50 L380.50,226.50 L383.50,227.50 L384.50,227.50 L384.50,229.50 L385.50,229.50 L390.50,229.50 L392.50,230.50 L395.50,229.50 L402.50,229.50 L404.50,229.50 L404.50,232.50 L405.50,232.50 L412.50,232.50 L415.50,231.50 L416.50,231.50 L416.50,233.50 L417.50,233.50 L418.50,235.50 L419.50,235.50 L419.50,231.50 L420.50,231.50 L421.50,231.50 L421.50,226.50 L422.50,226.50 L423.50,226.50 L423.50,223.50 L424.50,223.50 L428.50,223.50 L429.50,223.50 L429.50,221.50 L430.50,221.50 L431.50,223.50 L432.50,221.50 L438.50,220.50 L439.50,220.50 L439.50,217.50 L440.50,217.50 L442.50,217.50 L443.50,214.50 L444.50,214.50 L444.50,216.50 L445.50,216.50 L450.50,216.50 L451.50,213.50 L456.50,212.50 L457.50,212.50 L457.50,210.50 L458.50,210.50 L460.50,209.50 L461.50,212.50 L465.50,212.50 L466.50,210.50 L467.50,210.50 L467.50,212.50 L468.50,212.50 L472.50,212.50 L473.50,212.50 L473.50,215.50 L474.50,215.50 L481.50,215.50 L482.50,215.50 L482.50,218.50 L483.50,218.50 L484.50,215.50 L492.50,215.50 L493.50,215.50 L493.50,211.50 L494.50,211.50 L500.50,210.50 L501.50,206.50 L502.50,206.50 L502.50,209.50 L503.50,209.50 L506.50,210.50 L507.50,210.50 L507.50,212.50 L508.50,212.50 L509.50,212.50 L509.50,215.50 L510.50,215.50 L513.50,215.50 L514.50,215.50 L514.50,211.50 L515.50,211.50 L517.50,211.50 L518.50,208.50 L519.50,208.50 L519.50,211.50 L520.50,211.50 L522.50,210.50 L524.50,210.50 L524.50,208.50 L525.50,208.50 L526.50,208.50 L526.50,205.50 L527.50,205.50 L532.50,204.50 L533.50,204.50 L533.50,208.50 L534.50,208.50 L535.50,208.50 L535.50,210.50 L536.50,210.50 L542.50,210.50 L543.50,210.50 L543.50,206.50 L544.50,206.50 L545.50,206.50 L545.50,202.50 L546.50,202.50 L548.50,203.50 L549.50,203.50 L549.50,205.50 L550.50,205.50 L550.50,206.50 L551.50,204.50 L552.50,204.50 L552.50,207.50 L553.50,207.50 L561.50,207.50 L562.50,207.50 L562.50,213.50 L563.50,213.50 L564.50,213.50 L564.50,208.50 L565.50,208.50 L566.50,208.50 L566.50,205.50 L567.50,205.50 L572.50,205.50 L574.50,205.50 L574.50,203.50 L575.50,203.50 L578.50,203.50 L579.50,203.50 L579.50,206.50 L580.50,206.50 L588.50,207.50 L589.50,207.50 L589.50,210.50 L590.50,210.50 L596.50,210.50 L597.50,210.50 L597.50,213.50 L598.50,213.50 L603.50,214.50 L604.50,214.50 L604.50,210.50 L605.50,210.50 L608.50,210.50 L609.50,216.50 L610.50,216.50 L610.50,212.50 L611.50,212.50 L612.50,212.50 L612.50,210.50 L613.50,210.50 L618.50,210.50 L620.50,210.50 L620.50,207.50 L621.50,207.50 L630.50,207.50 L631.50,207.50 L631.50,210.50 L632.50,210.50 L637.50,210.50 L638.50,210.50 L638.50,207.50 L639.50,207.50 L645.50,207.50 L646.50,207.50 L646.50,210.50 L647.50,210.50 L649.50,210.50 L649.50,213.50 L650.50,213.50 L663.50,213.50 L664.50,213.50 L664.50,210.50 L665.50,210.50 L666.50,210.50 L666.50,215.50 L667.50,215.50 L668.50,220.50 L669.50,220.50 L669.50,222.50 L670.50,222.50 L671.50,222.50 L671.50,227.50 L672.50,227.50 L677.50,227.50 L679.50,227.50 L679.50,230.50 L680.50,230.50 L686.50,230.50 L688.50,231.50 L693.50,230.50 L694.50,230.50 L694.50,226.50 L695.50,226.50 L696.50,226.50 L696.50,230.50 L697.50,230.50 L698.50,230.50 L698.50,227.50 L699.50,227.50 L700.50,227.50 L700.50,229.50 L701.50,229.50 L703.50,229.50 L704.50,229.50 L704.50,223.50 L705.50,223.50 L710.50,223.50 L711.50,223.50 L711.50,226.50 L712.50,226.50 L716.50,225.50 L717.50,225.50 L717.50,223.50 L718.50,223.50 L719.50,223.50 L719.50,220.50 L720.50,220.50 L721.50,223.50 L722.50,223.50 L722.50,227.50 L723.50,227.50 L726.50,227.50 L727.50,227.50 L727.50,224.50 L728.50,224.50 L735.50,224.50 L736.50,224.50 L736.50,226.50 L737.50,226.50 L743.50,225.50 L744.50,225.50 L744.50,228.50 L745.50,228.50 L748.50,227.50 L749.50,227.50 L749.50,223.50 L750.50,223.50 L751.50,223.50 L751.50,221.50 L752.50,221.50 L757.50,220.50 L758.50,220.50 L758.50,223.50 L759.50,223.50 L763.50,223.50 L765.50,223.50 L765.50,220.50 L766.50,220.50 L767.50,220.50 L767.50,215.50 L768.50,215.50 L769.50,215.50 L769.50,213.50 L770.50,213.50 L773.50,214.50 L774.50,214.50 L774.50,217.50 L775.50,217.50 L777.50,216.50 L778.50,221.50 L780.50,221.50 L780.50,223.50 L781.50,223.50 L782.50,223.50 L782.50,226.50 L783.50,226.50 L786.50,227.50 L789.50,227.50 L790.50,221.50 L791.50,221.50 L791.50,217.50 L792.50,217.50 L793.50,217.50 L793.50,220.50 L794.50,220.50 L797.50,220.50 L798.50,220.50 L798.50,222.50 L799.50,222.50 L801.50,222.50 L801.50,220.50 L802.50,220.50 L803.50,217.50 L810.50,217.50 L811.50,220.50 L817.50,220.50" fill="none" stroke="#FA6400" stroke-width="1.2" stroke-linejoin="round"/><path d="M93.50,402.50 L93.50,365.50 L93.50,348.50 L95.50,345.50 L96.50,343.50 L97.50,342.50 L98.50,328.50 L100.50,322.50 L101.50,319.50 L102.50,319.50 L103.50,322.50 L105.50,320.50 L106.50,323.50 L107.50,324.50 L108.50,326.50 L110.50,318.50 L111.50,310.50 L112.50,293.50 L113.50,300.50 L115.50,293.50 L116.50,287.50 L118.50,293.50 L119.50,292.50 L120.50,290.50 L121.50,289.50 L122.50,293.50 L123.50,283.50 L125.50,275.50 L126.50,282.50 L127.50,292.50 L128.50,297.50 L130.50,301.50 L131.50,302.50 L132.50,307.50 L133.50,306.50 L135.50,306.50 L136.50,303.50 L137.50,302.50 L138.50,300.50 L139.50,301.50 L140.50,303.50 L141.50,305.50 L142.50,307.50 L143.50,308.50 L145.50,293.50 L147.50,310.50 L148.50,306.50 L149.50,301.50 L150.50,297.50 L151.50,292.50 L152.50,289.50 L153.50,286.50 L154.50,287.50 L155.50,291.50 L156.50,293.50 L157.50,297.50 L158.50,298.50 L160.50,302.50 L161.50,305.50 L162.50,308.50 L163.50,312.50 L165.50,317.50 L166.50,320.50 L167.50,328.50 L168.50,312.50 L170.50,301.50 L171.50,303.50 L172.50,306.50 L173.50,303.50 L174.50,303.50 L175.50,287.50 L176.50,300.50 L178.50,295.50 L179.50,299.50 L180.50,302.50 L181.50,306.50 L182.50,308.50 L183.50,312.50 L185.50,327.50 L186.50,335.50 L188.50,332.50 L189.50,325.50 L190.50,338.50 L191.50,337.50 L192.50,336.50 L193.50,333.50 L195.50,332.50 L196.50,322.50 L198.50,312.50 L199.50,301.50 L200.50,296.50 L201.50,300.50 L202.50,277.50 L203.50,252.50 L205.50,240.50 L206.50,220.50 L207.50,195.50 L208.50,193.50 L209.50,193.50 L210.50,193.50 L211.50,193.50 L212.50,193.50 L212.50,199.50 L213.50,205.50 L215.50,212.50 L216.50,217.50 L217.50,228.50 L218.50,237.50 L218.50,240.50 L220.50,260.50 L221.50,280.50 L222.50,302.50 L223.50,322.50 L225.50,312.50 L226.50,310.50 L228.50,311.50 L229.50,321.50 L230.50,308.50 L232.50,306.50 L233.50,287.50 L235.50,257.50 L236.50,255.50 L237.50,267.50 L238.50,265.50 L240.50,272.50 L241.50,272.50 L242.50,277.50 L243.50,267.50 L245.50,263.50 L246.50,264.50 L247.50,267.50 L248.50,257.50 L250.50,277.50 L251.50,307.50 L253.50,298.50 L254.50,299.50 L255.50,300.50 L256.50,302.50 L257.50,306.50 L258.50,315.50 L259.50,323.50 L261.50,312.50 L262.50,318.50 L263.50,322.50 L265.50,325.50 L266.50,328.50 L268.50,312.50 L269.50,297.50 L270.50,287.50 L271.50,277.50 L272.50,272.50 L273.50,262.50 L274.50,255.50 L276.50,245.50 L277.50,238.50 L278.50,232.50 L279.50,227.50 L280.50,222.50 L281.50,216.50 L282.50,209.50 L283.50,215.50 L284.50,253.50 L284.50,208.50 L286.50,208.50 L287.50,215.50 L288.50,229.50 L289.50,208.50 L291.50,207.50 L291.50,213.50 L292.50,207.50 L292.50,205.50 L293.50,155.50 L294.50,130.50 L294.50,114.50 L295.50,110.50 L296.50,91.50 L297.50,93.50 L298.50,82.50 L299.50,86.50 L300.50,110.50 L300.50,130.50 L301.50,131.50 L302.50,136.50 L303.50,136.50 L304.50,133.50 L304.50,140.50 L305.50,155.50 L307.50,173.50 L307.50,205.50 L308.50,235.50 L309.50,255.50 L310.50,275.50 L311.50,280.50 L312.50,285.50 L313.50,285.50 L314.50,286.50 L315.50,287.50 L315.50,320.50 L316.50,321.50 L317.50,327.50 L318.50,334.50 L319.50,342.50 L321.50,332.50 L322.50,330.50 L323.50,326.50 L325.50,333.50 L326.50,329.50 L327.50,325.50 L328.50,326.50 L330.50,322.50 L331.50,313.50 L332.50,320.50 L333.50,308.50 L335.50,317.50 L336.50,319.50 L337.50,321.50 L338.50,323.50 L340.50,325.50 L341.50,325.50 L342.50,323.50 L343.50,335.50 L344.50,330.50 L345.50,328.50 L346.50,333.50 L347.50,345.50 L348.50,340.50 L350.50,337.50 L351.50,336.50 L352.50,340.50 L353.50,332.50 L354.50,331.50 L356.50,345.50 L358.50,337.50 L359.50,338.50 L360.50,342.50 L361.50,338.50 L362.50,340.50 L363.50,345.50 L365.50,343.50 L366.50,346.50 L367.50,351.50 L368.50,353.50 L370.50,356.50 L371.50,355.50 L372.50,357.50 L373.50,350.50 L375.50,335.50 L376.50,322.50 L377.50,313.50 L378.50,310.50 L379.50,303.50 L381.50,300.50 L382.50,290.50 L383.50,280.50 L384.50,275.50 L385.50,267.50 L387.50,262.50 L388.50,271.50 L389.50,282.50 L390.50,276.50 L392.50,285.50 L393.50,292.50 L395.50,295.50 L396.50,300.50 L397.50,307.50 L398.50,313.50 L400.50,322.50 L401.50,327.50 L402.50,330.50 L403.50,335.50 L405.50,343.50 L406.50,338.50 L407.50,355.50 L408.50,360.50 L410.50,350.50 L411.50,344.50 L412.50,340.50 L413.50,327.50 L415.50,325.50 L416.50,320.50 L417.50,317.50 L418.50,316.50 L419.50,312.50 L420.50,307.50 L422.50,315.50 L423.50,320.50 L425.50,316.50 L426.50,326.50 L428.50,340.50 L429.50,344.50 L430.50,347.50 L431.50,347.50 L432.50,350.50 L433.50,355.50 L435.50,361.50 L436.50,363.50 L437.50,361.50 L438.50,358.50 L440.50,360.50 L441.50,354.50 L442.50,350.50 L443.50,342.50 L445.50,335.50 L447.50,325.50 L448.50,315.50 L450.50,308.50 L451.50,310.50 L452.50,311.50 L453.50,306.50 L455.50,302.50 L456.50,300.50 L457.50,296.50 L458.50,293.50 L459.50,290.50 L460.50,287.50 L462.50,295.50 L463.50,293.50 L465.50,300.50 L466.50,301.50 L468.50,296.50 L469.50,291.50 L470.50,287.50 L471.50,283.50 L473.50,290.50 L474.50,288.50 L475.50,298.50 L477.50,302.50 L478.50,307.50 L480.50,303.50 L481.50,305.50 L482.50,308.50 L483.50,315.50 L485.50,316.50 L486.50,322.50 L488.50,328.50 L489.50,331.50 L491.50,326.50 L493.50,321.50 L494.50,326.50 L496.50,332.50 L498.50,328.50 L499.50,326.50 L500.50,326.50 L501.50,324.50 L502.50,322.50 L503.50,326.50 L505.50,331.50 L507.50,335.50 L508.50,332.50 L510.50,330.50 L512.50,336.50 L513.50,330.50 L515.50,325.50 L516.50,317.50 L518.50,307.50 L519.50,302.50 L521.50,295.50 L523.50,300.50 L524.50,302.50 L526.50,296.50 L528.50,291.50 L529.50,285.50 L530.50,280.50 L532.50,292.50 L533.50,312.50 L534.50,327.50 L535.50,322.50 L537.50,332.50 L538.50,333.50 L539.50,322.50 L540.50,320.50 L542.50,317.50 L543.50,322.50 L544.50,332.50 L545.50,350.50 L547.50,332.50 L548.50,323.50 L550.50,317.50 L550.50,293.50 L551.50,291.50 L552.50,288.50 L553.50,292.50 L555.50,290.50 L556.50,295.50 L557.50,297.50 L559.50,283.50 L560.50,277.50 L562.50,287.50 L563.50,302.50 L565.50,312.50 L566.50,314.50 L567.50,317.50 L568.50,321.50 L569.50,326.50 L571.50,331.50 L572.50,327.50 L574.50,333.50 L575.50,336.50 L576.50,341.50 L578.50,345.50 L579.50,341.50 L581.50,350.50 L583.50,340.50 L584.50,338.50 L585.50,335.50 L586.50,338.50 L587.50,342.50 L588.50,346.50 L589.50,346.50 L590.50,347.50 L592.50,350.50 L593.50,345.50 L594.50,338.50 L595.50,335.50 L597.50,345.50 L598.50,346.50 L599.50,347.50 L600.50,336.50 L602.50,322.50 L603.50,323.50 L604.50,326.50 L606.50,325.50 L608.50,320.50 L609.50,327.50 L611.50,323.50 L613.50,326.50 L614.50,317.50 L616.50,335.50 L618.50,343.50 L619.50,336.50 L620.50,330.50 L621.50,326.50 L623.50,322.50 L625.50,335.50 L626.50,338.50 L627.50,340.50 L628.50,335.50 L630.50,330.50 L631.50,328.50 L632.50,327.50 L633.50,326.50 L634.50,328.50 L636.50,327.50 L638.50,317.50 L639.50,313.50 L640.50,311.50 L641.50,313.50 L642.50,315.50 L643.50,322.50 L644.50,328.50 L645.50,332.50 L647.50,335.50 L649.50,328.50 L650.50,337.50 L652.50,341.50 L654.50,350.50 L655.50,352.50 L656.50,356.50 L657.50,356.50 L658.50,358.50 L660.50,360.50 L661.50,355.50 L663.50,351.50 L664.50,358.50 L666.50,362.50 L668.50,357.50 L669.50,361.50 L670.50,363.50 L671.50,364.50 L672.50,362.50 L673.50,352.50 L674.50,350.50 L675.50,347.50 L677.50,351.50 L678.50,349.50 L679.50,348.50 L680.50,346.50 L682.50,350.50 L683.50,348.50 L684.50,347.50 L686.50,348.50 L688.50,350.50 L689.50,353.50 L690.50,357.50 L691.50,356.50 L692.50,356.50 L693.50,351.50 L694.50,350.50 L695.50,350.50 L697.50,347.50 L698.50,345.50 L700.50,343.50 L700.50,346.50 L701.50,342.50 L702.50,340.50 L703.50,336.50 L704.50,332.50 L706.50,323.50 L707.50,330.50 L708.50,331.50 L709.50,336.50 L710.50,327.50 L712.50,310.50 L713.50,295.50 L714.50,280.50 L715.50,295.50 L716.50,296.50 L717.50,300.50 L718.50,301.50 L719.50,305.50 L721.50,300.50 L722.50,292.50 L724.50,288.50 L725.50,305.50 L727.50,320.50 L728.50,337.50 L730.50,336.50 L731.50,336.50 L732.50,335.50 L733.50,333.50 L735.50,333.50 L736.50,332.50 L737.50,331.50 L738.50,335.50 L740.50,335.50 L741.50,338.50 L743.50,348.50 L744.50,343.50 L745.50,340.50 L746.50,342.50 L747.50,343.50 L748.50,346.50 L749.50,347.50 L750.50,347.50 L752.50,356.50 L753.50,358.50 L755.50,358.50 L756.50,359.50 L757.50,360.50 L758.50,351.50 L760.50,357.50 L761.50,361.50 L762.50,365.50 L763.50,357.50 L765.50,363.50 L766.50,360.50 L767.50,357.50 L768.50,347.50 L769.50,343.50 L770.50,340.50 L771.50,338.50 L773.50,348.50 L775.50,346.50 L776.50,343.50 L777.50,338.50 L778.50,348.50 L780.50,347.50 L781.50,351.50 L782.50,352.50 L783.50,354.50 L785.50,356.50 L786.50,352.50 L787.50,351.50 L788.50,348.50 L789.50,348.50 L791.50,350.50 L792.50,347.50 L793.50,348.50 L794.50,351.50 L795.50,353.50 L797.50,353.50 L798.50,351.50 L800.50,346.50 L801.50,346.50 L802.50,348.50 L803.50,349.50 L804.50,350.50 L806.50,348.50 L807.50,350.50 L808.50,335.50 L809.50,310.50 L810.50,310.50 L811.50,309.50 L813.50,312.50 L814.50,318.50 L815.50,311.50 L817.50,308.50 L818.50,308.50 L818.50,402.50 Z" fill="rgba(128,128,128,0.185)" stroke="rgba(128,128,128,0.12)" stroke-width="1"/></g></svg>
<div class="yl" style="top:392px">1.000</div><div class="yl" style="top:348px">2.000</div><div class="yl" style="top:304px">3.000</div><div class="yl" style="top:260px">4.000</div><div class="yl" style="top:216px">5.000</div><div class="yl" style="top:173px">6.000</div><div class="yl" style="top:129px">7.000</div><div class="yl" style="top:85px">8.000</div><div class="yl" style="top:41px">9.000</div><div class="yr" style="top:377px">40.000 PH/s</div><div class="yr" style="top:326px">50.000 PH/s</div><div class="yr" style="top:275px">60.000 PH/s</div><div class="yr" style="top:224px">70.000 PH/s</div><div class="yr" style="top:173px">80.000 PH/s</div><div class="yr" style="top:122px">90.000 PH/s</div><div class="yr" style="top:72px">100.000 PH/s</div><div class="xl" style="left:61px">03/01</div><div class="xl" style="left:208px">03/03</div><div class="xl" style="left:356px">03/05</div><div class="xl" style="left:503px">03/07</div><div class="xl" style="left:651px">03/09</div>
<div class="ytitle">~ Average DGB per TH/s per 24h</div>
<div class="rtitle">Hashrate</div>
<div class="sw" style="left:13px;top:437px;background:#73BF69"></div>
<div class="lg" style="left:35px;top:431px;letter-spacing:-0.03px">Avg 1D</div>
<div class="lg" style="left:82px;top:431px;letter-spacing:0.53px">Last *: 6.608</div>
<div class="sw" style="left:167px;top:437px;background:#5794F2"></div>
<div class="lg" style="left:189px;top:431px;letter-spacing:0.35px">Avg 3D</div>
<div class="lg" style="left:238px;top:431px;letter-spacing:0.6px">Last *: 4.938</div>
<div class="sw" style="left:323px;top:437px;background:#FA6400"></div>
<div class="lg" style="left:345px;top:431px;letter-spacing:0.35px">Avg 7D</div>
<div class="lg" style="left:394px;top:431px;letter-spacing:0.04px">Last *: 5.111</div>
<div class="sw" style="left:722px;top:476px;background:rgba(128,128,128,0.12)"></div>
<div class="lg" style="left:743.7px;top:469px;letter-spacing:0.46px">Hashrate</div>
<div class="lg" style="left:804px;top:469px;letter-spacing:0.51px">Last *: 55.026 PH/s</div>
</div></body></html>
